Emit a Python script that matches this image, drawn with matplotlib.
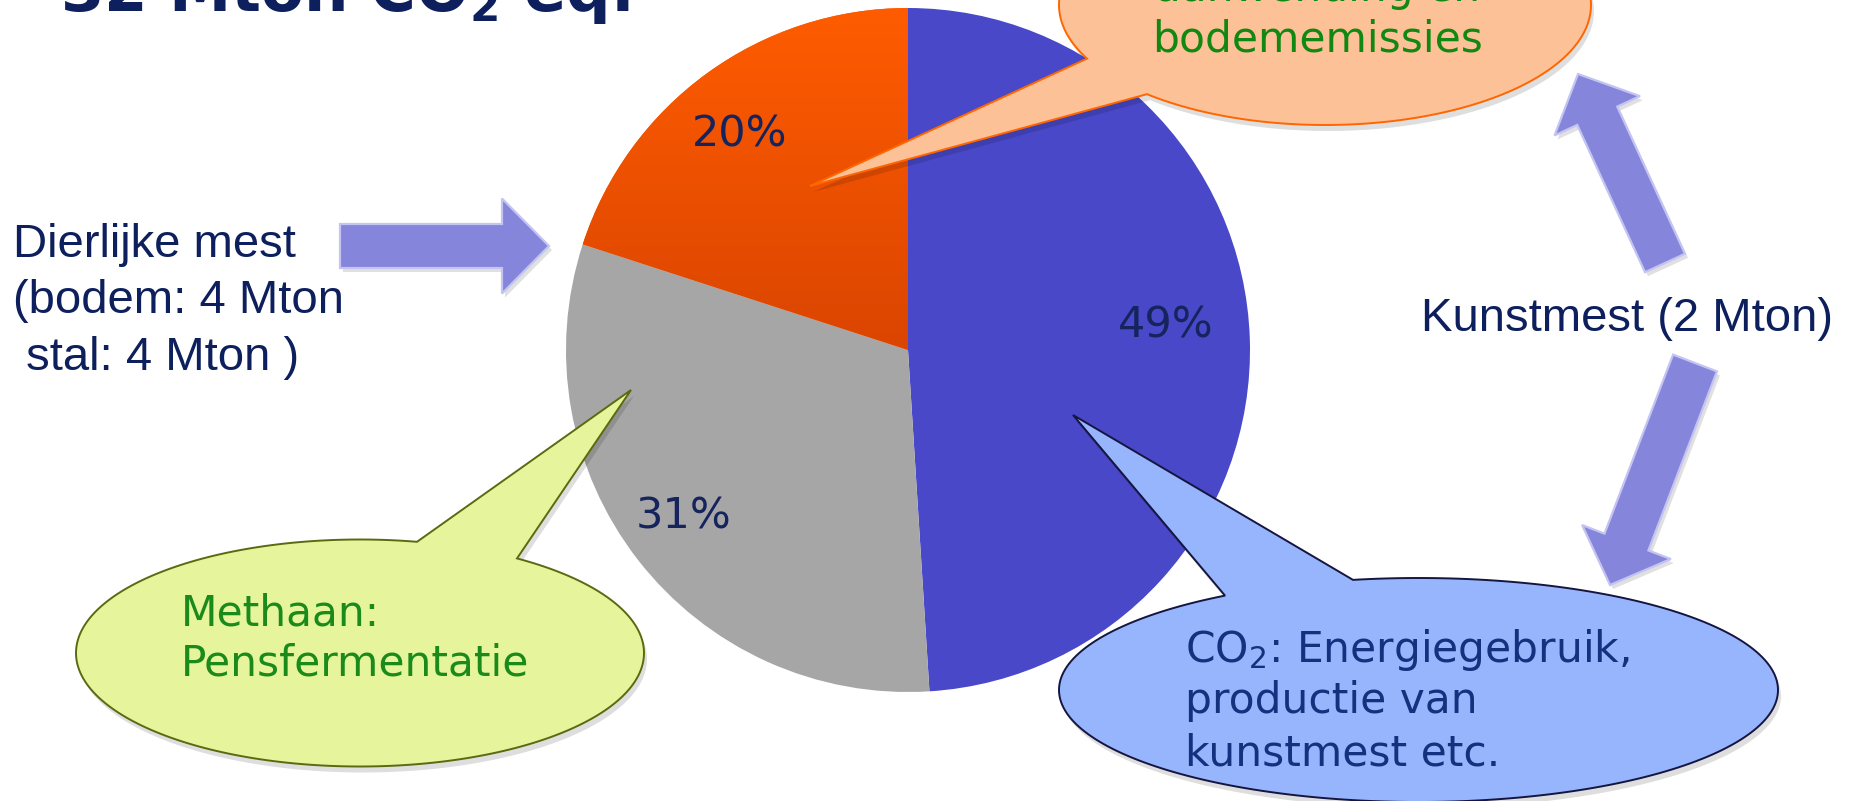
"""Pie of livestock greenhouse gas emissions (32 Mton CO2 eq.) with callouts."""

import numpy as np
import matplotlib

matplotlib.use("Agg")
import matplotlib.pyplot as plt
from matplotlib.colors import to_rgb
from matplotlib.patches import Polygon

W, H = 1852, 801

# ---- data -------------------------------------------------------------
shares = [49, 31, 20]  # CO2, methaan, lachgas (percent of total)
share_colors = ["#4848C8", "#A6A6A6", "#FF5A00"]

title_text = r"32 Mton CO$_\mathbf{2}$ eq."
manure_lines = ["Dierlijke mest", "(bodem: 4 Mton", " stal: 4 Mton )"]
fertiliser_label = "Kunstmest (2 Mton)"
n2o_lines = ["aanwending en", "bodememissies"]
methane_lines = ["Methaan:", "Pensfermentatie"]
co2_lines = [r"CO$_2$: Energiegebruik,", "productie van", "kunstmest etc."]

# ---- layout (pixel coordinates, y measured from the top) --------------
PIE_CENTER = (908, 350)
PIE_RADIUS = 342
LABEL_NUDGE = [(-16, -16), (-8, -1), (-8, 6)]

NAVY = "#0D1F5C"
ARROW_FACE = "#8585DC"
ARROW_EDGE = "#C4C4F2"


def fy(y):
    return H - y


def callout_points(cx, cy, a, b, base_x, side, tip, n=240):
    sign = -1 if side == "top" else 1
    u = np.clip((np.asarray(base_x, float) - cx) / a, -1, 1)
    t_lo, t_hi = sorted(sign * np.arccos(u))
    arc = np.linspace(t_hi, t_lo + 2 * np.pi, n)
    pts = np.column_stack([cx + a * np.cos(arc), cy + b * np.sin(arc)])
    pts = np.vstack([pts, tip])
    pts[:, 1] = H - pts[:, 1]
    return pts


def arrow_points(tail, tip, shaft_w, head_w, head_len):
    tail = np.asarray(tail, float)
    tip = np.asarray(tip, float)
    d = tip - tail
    u = d / np.hypot(*d)
    n = np.array([-u[1], u[0]])
    base = tip - u * head_len
    pts = np.array([
        tail + n * shaft_w / 2, base + n * shaft_w / 2, base + n * head_w / 2, tip,
        base - n * head_w / 2, base - n * shaft_w / 2, tail - n * shaft_w / 2,
    ])
    pts[:, 1] = H - pts[:, 1]
    return pts


def draw_callout(ax, pts, face, edge, z):
    shadow = pts + np.array([3, -6])
    ax.add_patch(Polygon(shadow, closed=True, facecolor="#000000", alpha=0.13, lw=0, zorder=z - 0.1))
    ax.add_patch(Polygon(pts, closed=True, facecolor=face, edgecolor=edge, lw=1.4, zorder=z))


def draw_arrow(ax, pts):
    shadow = pts + np.array([3, -4])
    ax.add_patch(Polygon(shadow, closed=True, facecolor="#000000", alpha=0.12, lw=0, zorder=2))
    ax.add_patch(Polygon(pts, closed=True, facecolor=ARROW_FACE, edgecolor=ARROW_EDGE, lw=1.6, zorder=2.1))


def text_lines(ax, lines, x, baselines, **kw):
    for line, y in zip(lines, baselines):
        ax.text(x, fy(y), line, va="baseline", **kw)


def main():
    fig = plt.figure(figsize=(W / 100, H / 100), dpi=100)
    ax = fig.add_axes([0, 0, 1, 1])

    cx, cy = PIE_CENTER
    wedges, _, pct_texts = ax.pie(
        shares,
        colors=share_colors,
        startangle=90,
        counterclock=False,
        radius=PIE_RADIUS,
        center=(cx, fy(cy)),
        autopct=lambda p: f"{p:.0f}%",
        pctdistance=0.8,
        wedgeprops=dict(linewidth=0),
        textprops=dict(fontsize=31, color="#15245C", family="DejaVu Sans"),
    )
    for txt, (dx, dy) in zip(pct_texts, LABEL_NUDGE):
        x, y = txt.get_position()
        txt.set_position((x + dx, y - dy))

    # orange slice: vertical gradient like the original 3D-ish fill
    top_rgb = np.array(to_rgb("#FF5C00"))
    low_rgb = np.array(to_rgb("#DA4500"))
    fade = np.linspace(0, 1, 256)[:, None]
    grad = top_rgb + (low_rgb - top_rgb) * fade
    img = ax.imshow(grad[:, None, :], extent=(cx - PIE_RADIUS, cx, fy(cy), fy(cy - PIE_RADIUS)),
                    origin="upper", aspect="auto", zorder=1.5)
    img.set_clip_path(wedges[2])

    # arrows
    draw_arrow(ax, arrow_points((340, 246), (549, 246), 44, 95, 47))
    draw_arrow(ax, arrow_points((1665, 263), (1578, 74), 44, 94, 46))
    draw_arrow(ax, arrow_points((1695, 363), (1610, 585), 47, 95, 46))

    # callouts
    draw_callout(ax, callout_points(1325, 5, 266, 120, [1087, 1147], "bottom", (810, 186)),
                 "#FDC197", "#FF6600", 5)
    draw_callout(ax, callout_points(360, 653, 284, 113.5, [417, 517], "top", (631, 390)),
                 "#E6F59C", "#5A6A10", 5)
    draw_callout(ax, callout_points(1418.5, 690, 359.5, 112, [1225, 1353], "top", (1073, 415)),
                 "#96B5FC", "#151540", 5)

    # texts
    ax.text(60, fy(11), title_text, fontsize=45, fontweight="bold", color=NAVY,
            family="DejaVu Sans", va="baseline", ha="left", zorder=6)
    text_lines(ax, manure_lines, 13, [257, 313, 370], fontsize=34, color=NAVY,
               family="Liberation Sans", ha="left", zorder=6)
    ax.text(1833, fy(331), fertiliser_label, fontsize=34, color=NAVY, family="Liberation Sans",
            ha="right", va="baseline", zorder=6)
    text_lines(ax, n2o_lines, 1318, [1, 52], fontsize=30.5, color="#118811",
               family="DejaVu Sans", ha="center", zorder=6)
    text_lines(ax, methane_lines, 181, [625, 675], fontsize=30.5, color="#1A8A1A",
               family="DejaVu Sans", ha="left", zorder=6)
    text_lines(ax, co2_lines, 1185, [662, 713, 765], fontsize=30.5, color="#14307F",
               family="DejaVu Sans", ha="left", zorder=6)

    ax.set_xlim(0, W)
    ax.set_ylim(0, H)
    ax.set_aspect("auto")
    ax.axis("off")
    fig.savefig("out.png", dpi=100, facecolor="white")
    plt.close(fig)


if __name__ == "__main__":
    main()
